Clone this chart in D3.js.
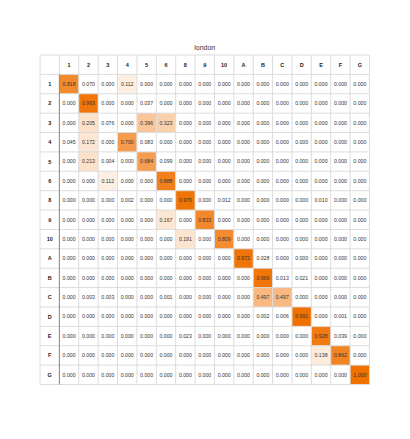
<!DOCTYPE html>
<html>
<head>
<meta charset="utf-8">
<script src="https://cdn.jsdelivr.net/npm/d3@7"></script>
<style>
  body { margin: 0; background: #fff; }
  svg { display: block; font-family: "Liberation Sans", Arial, sans-serif; }
</style>
</head>
<body>
<div id="chart"></div>
<script>
// Confusion matrix for "london"
const title = 'london';
const labels = ['1', '2', '3', '4', '5', '6', '8', '9', '10', 'A', 'B', 'C', 'D', 'E', 'F', 'G'];

const row1  = [0.818, 0.070, 0.000, 0.112, 0.000, 0.000, 0.000, 0.000, 0.000, 0.000, 0.000, 0.000, 0.000, 0.000, 0.000, 0.000];
const row2  = [0.000, 0.963, 0.000, 0.000, 0.037, 0.000, 0.000, 0.000, 0.000, 0.000, 0.000, 0.000, 0.000, 0.000, 0.000, 0.000];
const row3  = [0.000, 0.205, 0.076, 0.000, 0.396, 0.323, 0.000, 0.000, 0.000, 0.000, 0.000, 0.000, 0.000, 0.000, 0.000, 0.000];
const row4  = [0.045, 0.172, 0.000, 0.700, 0.083, 0.000, 0.000, 0.000, 0.000, 0.000, 0.000, 0.000, 0.000, 0.000, 0.000, 0.000];
const row5  = [0.000, 0.213, 0.004, 0.000, 0.684, 0.099, 0.000, 0.000, 0.000, 0.000, 0.000, 0.000, 0.000, 0.000, 0.000, 0.000];
const row6  = [0.000, 0.000, 0.112, 0.000, 0.000, 0.888, 0.000, 0.000, 0.000, 0.000, 0.000, 0.000, 0.000, 0.000, 0.000, 0.000];
const row8  = [0.000, 0.000, 0.000, 0.002, 0.000, 0.000, 0.976, 0.000, 0.012, 0.000, 0.000, 0.000, 0.000, 0.010, 0.000, 0.000];
const row9  = [0.000, 0.000, 0.000, 0.000, 0.000, 0.167, 0.000, 0.833, 0.000, 0.000, 0.000, 0.000, 0.000, 0.000, 0.000, 0.000];
const row10 = [0.000, 0.000, 0.000, 0.000, 0.000, 0.000, 0.191, 0.000, 0.809, 0.000, 0.000, 0.000, 0.000, 0.000, 0.000, 0.000];
const rowA  = [0.000, 0.000, 0.000, 0.000, 0.000, 0.000, 0.000, 0.000, 0.000, 0.972, 0.028, 0.000, 0.000, 0.000, 0.000, 0.000];
const rowB  = [0.000, 0.000, 0.000, 0.000, 0.000, 0.000, 0.000, 0.000, 0.000, 0.000, 0.966, 0.013, 0.021, 0.000, 0.000, 0.000];
const rowC  = [0.000, 0.003, 0.003, 0.000, 0.000, 0.001, 0.000, 0.000, 0.000, 0.000, 0.497, 0.497, 0.000, 0.000, 0.000, 0.000];
const rowD  = [0.000, 0.000, 0.000, 0.000, 0.000, 0.000, 0.000, 0.000, 0.000, 0.000, 0.002, 0.006, 0.991, 0.000, 0.001, 0.000];
const rowE  = [0.000, 0.000, 0.000, 0.000, 0.000, 0.000, 0.023, 0.000, 0.000, 0.000, 0.000, 0.000, 0.000, 0.928, 0.039, 0.000];
const rowF  = [0.000, 0.000, 0.000, 0.000, 0.000, 0.000, 0.000, 0.000, 0.000, 0.000, 0.000, 0.000, 0.000, 0.138, 0.862, 0.000];
const rowG  = [0.000, 0.000, 0.000, 0.000, 0.000, 0.000, 0.000, 0.000, 0.000, 0.000, 0.000, 0.000, 0.000, 0.000, 0.000, 1.000];

const matrix = [row1, row2, row3, row4, row5, row6, row8, row9, row10, rowA, rowB, rowC, rowD, rowE, rowF, rowG];

const width = 410, height = 439;
const tableLeft = 40, tableTop = 55, cell = 329.5 / 17;
const gridLeft = tableLeft + cell, gridTop = tableTop + cell;
const gridRight = tableLeft + 17 * cell, gridBottom = tableTop + 17 * cell;

const svg = d3.select('#chart').append('svg')
    .attr('width', width)
    .attr('height', height);

const x = d3.scaleBand().domain(labels).range([gridLeft, gridRight]);
const y = d3.scaleBand().domain(labels).range([gridTop, gridBottom]);

// Cells below 0.1 stay white
const color = d3.scaleLinear().domain([0, 1]).range(['#ffffff', '#f07000']);
const fill = v => v < 0.1 ? '#ffffff' : color(v);

const cells = [];
matrix.forEach((row, i) => {
    row.forEach((v, j) => cells.push({ r: labels[i], c: labels[j], v }));
});

// Title
svg.append('text')
    .attr('x', (tableLeft + gridRight) / 2)
    .attr('y', 50)
    .attr('text-anchor', 'middle')
    .style('font-size', '7px')
    .style('fill', '#333')
    .text(title);

// Cell backgrounds
svg.append('g').selectAll('rect')
    .data(cells)
    .join('rect')
    .attr('x', d => x(d.c))
    .attr('y', d => y(d.r))
    .attr('width', x.bandwidth())
    .attr('height', y.bandwidth())
    .attr('fill', d => fill(d.v));

// Grid lines
const grid = svg.append('g')
    .attr('stroke', '#dcdcdc')
    .attr('stroke-width', 1);

d3.range(18).forEach(k => {
    const off = k * cell;
    grid.append('line')
        .attr('x1', tableLeft + off).attr('x2', tableLeft + off)
        .attr('y1', tableTop).attr('y2', gridBottom);
    grid.append('line')
        .attr('x1', tableLeft).attr('x2', gridRight)
        .attr('y1', tableTop + off).attr('y2', tableTop + off);
});

// Darker separator next to row labels
svg.append('line')
    .attr('x1', gridLeft).attr('x2', gridLeft)
    .attr('y1', gridTop).attr('y2', gridBottom)
    .attr('stroke', '#888')
    .attr('stroke-width', 1);

// Column headers
svg.append('g').selectAll('text')
    .data(labels)
    .join('text')
    .attr('x', d => x(d) + x.bandwidth() / 2)
    .attr('y', tableTop + cell / 2)
    .attr('dy', '0.35em')
    .attr('text-anchor', 'middle')
    .style('font-size', '5.5px')
    .style('font-weight', 'bold')
    .style('fill', '#222')
    .text(d => d);

// Row headers
svg.append('g').selectAll('text')
    .data(labels)
    .join('text')
    .attr('x', tableLeft + cell / 2)
    .attr('y', d => y(d) + y.bandwidth() / 2)
    .attr('dy', '0.35em')
    .attr('text-anchor', 'middle')
    .style('font-size', '5.5px')
    .style('font-weight', 'bold')
    .style('fill', '#222')
    .text(d => d);

// Cell values
svg.append('g').selectAll('text')
    .data(cells)
    .join('text')
    .attr('x', d => x(d.c) + x.bandwidth() / 2)
    .attr('y', d => y(d.r) + y.bandwidth() / 2)
    .attr('dy', '0.35em')
    .attr('text-anchor', 'middle')
    .style('font-size', '5.2px')
    .style('fill', '#333')
    .text(d => d.v.toFixed(3));
</script>
</body>
</html>
